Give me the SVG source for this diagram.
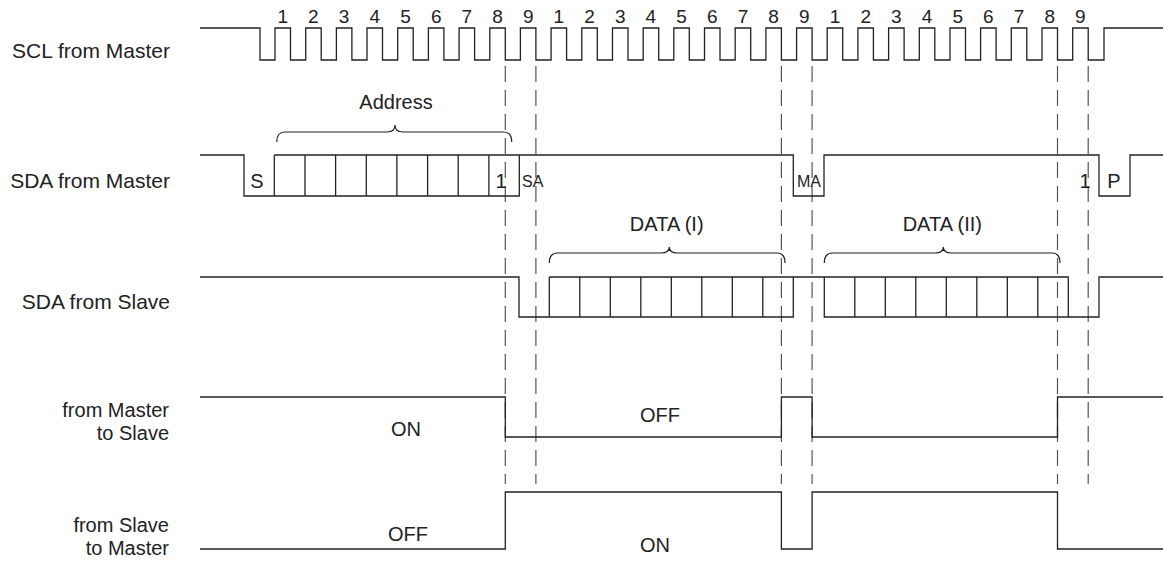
<svg xmlns="http://www.w3.org/2000/svg" width="1165" height="565" viewBox="0 0 1165 565">
<style>
.sig{fill:none;stroke:#222;stroke-width:1.3}
.div{stroke:#222;stroke-width:1.3}
.dash{stroke:#555;stroke-width:1.2;stroke-dasharray:16 8}
.br{fill:none;stroke:#222;stroke-width:1.2}
text{font-family:"Liberation Sans",Arial,sans-serif;fill:#222}
.lbl{font-size:21px;text-anchor:end}
.lbl2{font-size:20px;text-anchor:end}
.num{font-size:19px;text-anchor:middle}
.mid{font-size:20px;text-anchor:middle}
.sm{font-size:16px}
</style>
<rect width="1165" height="565" fill="#fff"/>
<g id="labels">
<text class="lbl" x="170" y="58">SCL from Master</text>
<text class="lbl" x="170" y="188">SDA from Master</text>
<text class="lbl" x="170" y="309">SDA from Slave</text>
<text class="lbl2" x="169" y="417">from Master</text>
<text class="lbl2" x="169" y="440">to Slave</text>
<text class="lbl2" x="169" y="532">from Slave</text>
<text class="lbl2" x="169" y="555">to Master</text>
</g>
<g id="connectors">
<line class="dash" x1="505.3" y1="66" x2="505.3" y2="484"/>
<line class="dash" x1="535.9" y1="66" x2="535.9" y2="484"/>
<line class="dash" x1="781.4" y1="66" x2="781.4" y2="484"/>
<line class="dash" x1="812.1" y1="66" x2="812.1" y2="484"/>
<line class="dash" x1="1057.5" y1="66" x2="1057.5" y2="484"/>
<line class="dash" x1="1088.2" y1="66" x2="1088.2" y2="484"/>
</g>
<g id="scl">
<path class="sig" d="M200,28 H260 V60 H275 V28 H290.5 V60 H305.7 V28 H321.2 V60 H336.4 V28 H351.9 V60 H367 V28 H382.5 V60 H397.7 V28 H413.2 V60 H428.4 V28 H443.9 V60 H459.1 V28 H474.6 V60 H489.8 V28 H505.3 V60 H520.4 V28 H535.9 V60 H551.1 V28 H566.6 V60 H581.8 V28 H597.3 V60 H612.5 V28 H628 V60 H643.2 V28 H658.7 V60 H673.8 V28 H689.3 V60 H704.5 V28 H720 V60 H735.2 V28 H750.7 V60 H765.9 V28 H781.4 V60 H796.6 V28 H812.1 V60 H827.2 V28 H842.7 V60 H857.9 V28 H873.4 V60 H888.6 V28 H904.1 V60 H919.3 V28 H934.8 V60 H950 V28 H965.5 V60 H980.6 V28 H996.1 V60 H1011.3 V28 H1026.8 V60 H1042 V28 H1057.5 V60 H1072.7 V28 H1088.2 V60 H1104 V28 H1163"/>
<text class="num" x="282.8" y="23">1</text>
<text class="num" x="313.4" y="23">2</text>
<text class="num" x="344.1" y="23">3</text>
<text class="num" x="374.8" y="23">4</text>
<text class="num" x="405.5" y="23">5</text>
<text class="num" x="436.2" y="23">6</text>
<text class="num" x="466.8" y="23">7</text>
<text class="num" x="497.5" y="23">8</text>
<text class="num" x="528.2" y="23">9</text>
<text class="num" x="558.9" y="23">1</text>
<text class="num" x="589.6" y="23">2</text>
<text class="num" x="620.2" y="23">3</text>
<text class="num" x="650.9" y="23">4</text>
<text class="num" x="681.6" y="23">5</text>
<text class="num" x="712.3" y="23">6</text>
<text class="num" x="743" y="23">7</text>
<text class="num" x="773.6" y="23">8</text>
<text class="num" x="804.3" y="23">9</text>
<text class="num" x="835" y="23">1</text>
<text class="num" x="865.7" y="23">2</text>
<text class="num" x="896.4" y="23">3</text>
<text class="num" x="927" y="23">4</text>
<text class="num" x="957.7" y="23">5</text>
<text class="num" x="988.4" y="23">6</text>
<text class="num" x="1019.1" y="23">7</text>
<text class="num" x="1049.8" y="23">8</text>
<text class="num" x="1080.4" y="23">9</text>
</g>
<g id="sda-master">
<text class="mid" x="396" y="109">Address</text>
<path class="br" d="M276.7,142 Q276.7,132 285,132 H387 Q395,132 395,125 Q395,132 403,132 H503.5 Q511.7,132 511.7,142"/>
<path class="sig" d="M200,155 H244 V196 H519.3 V155"/>
<path class="sig" d="M274.3,155 H793.3 V196 H824 V155 H1099 V196 H1130 V155 H1163"/>
<path class="div" d="M274.3,155 V196 M305,155 V196 M335.6,155 V196 M366.3,155 V196 M396.9,155 V196 M427.6,155 V196 M458.2,155 V196 M488.9,155 V196"/>
<text class="mid" x="257" y="188">S</text>
<text class="mid" x="501" y="188">1</text>
<text class="sm" x="522" y="187">SA</text>
<text class="sm" x="797" y="187">MA</text>
<text class="mid" x="1085" y="188">1</text>
<text class="mid" x="1114" y="188">P</text>
</g>
<g id="sda-slave">
<text class="mid" x="666.7" y="231">DATA (I)</text>
<text class="mid" x="942.3" y="231">DATA (II)</text>
<path class="br" d="M549.3,263 Q549.3,253 557.5,253 H661 Q669.3,253 669.3,247 Q669.3,253 677.5,253 H777 Q785,253 785,263"/>
<path class="br" d="M824.3,263 Q824.3,253 832.5,253 H935 Q943.3,253 943.3,247 Q943.3,253 951.5,253 H1052 Q1060,253 1060,263"/>
<path class="sig" d="M200,277 H519 V317 H793.3 V277"/>
<path class="sig" d="M549.3,277 H1068.3 V317"/>
<path class="sig" d="M824.3,277 V317 H1099 V277 H1163"/>
<path class="div" d="M549.3,277 V317 M579.8,277 V317 M610.3,277 V317 M640.8,277 V317 M671.3,277 V317 M701.8,277 V317 M732.3,277 V317 M762.8,277 V317 M854.8,277 V317 M885.3,277 V317 M915.8,277 V317 M946.3,277 V317 M976.8,277 V317 M1007.3,277 V317 M1037.8,277 V317"/>
</g>
<g id="master-to-slave">
<path class="sig" d="M200,397 H505.3 V437 H781.4 V397 H812.1 V437 H1057.5 V397 H1163"/>
<text class="mid" x="406" y="436">ON</text>
<text class="mid" x="660" y="422">OFF</text>
</g>
<g id="slave-to-master">
<path class="sig" d="M200,549 H505.3 V492 H781.4 V549 H812.1 V492 H1057.5 V549 H1163"/>
<text class="mid" x="408" y="541">OFF</text>
<text class="mid" x="655" y="552">ON</text>
</g>
</svg>
